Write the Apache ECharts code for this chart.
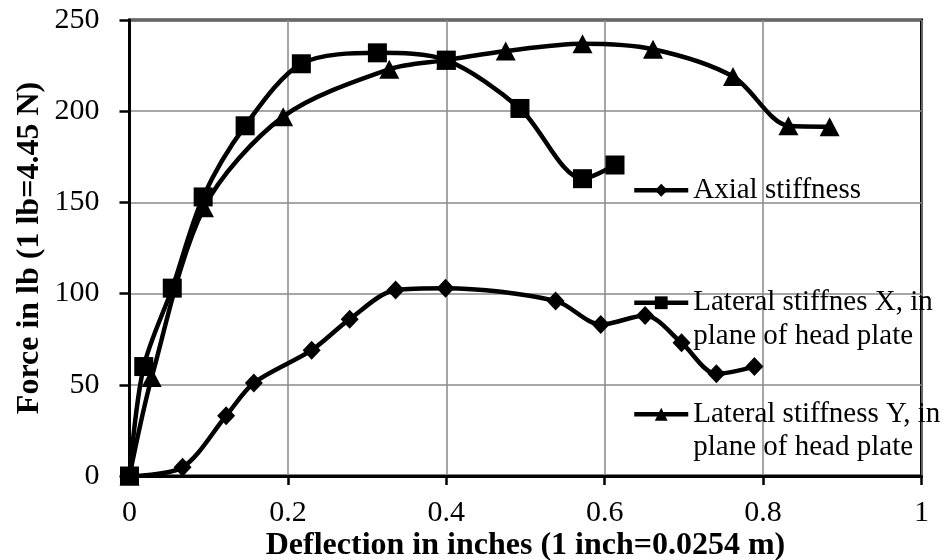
<!DOCTYPE html>
<html>
<head>
<meta charset="utf-8">
<script src="https://cdn.jsdelivr.net/npm/echarts@6/dist/echarts.min.js"></script>
<style>
  html, body { margin: 0; padding: 0; background: #fff; }
  #chart { width: 948px; height: 560px; }
</style>
</head>
<body>
<div id="chart"></div>
<script>
// Load-deflection test results for the three stiffness directions
const seriesNames = [
  'Axial stiffness',
  'Lateral stiffnes X, in\nplane of head plate',
  'Lateral stiffness Y, in\nplane of head plate'
];

const axialDeflection = [0, 0.067, 0.122, 0.157, 0.230, 0.278, 0.336, 0.399, 0.538, 0.595, 0.651, 0.697, 0.741, 0.789];
const axialForce      = [0, 4.8, 33, 51, 69, 86, 102, 103, 96, 83, 88, 73, 56, 60];

const lateralXDeflection = [0, 0.018, 0.054, 0.093, 0.146, 0.217, 0.313, 0.400, 0.493, 0.572, 0.613];
const lateralXForce      = [0, 60, 103, 153, 192, 226, 232, 228, 201.5, 163, 170.5];

const lateralYDeflection = [0, 0.028, 0.094, 0.194, 0.328, 0.400, 0.475, 0.572, 0.661, 0.762, 0.832, 0.884];
const lateralYForce      = [0, 54, 147, 197, 223, 228, 233, 237, 234, 219, 192, 191.5];

const xTitle = 'Deflection in inches (1 inch=0.0254 m)';
const yTitle = 'Force in lb (1 lb=4.45 N)';

const FONT = '"Liberation Serif", "Times New Roman", serif';
const LINE_W = 4.5;

function pairs(xs, ys) {
  return xs.map((x, i) => [x, ys[i]]);
}

function lineSeries(name, xs, ys, symbol, size) {
  return {
    name: name,
    type: 'line',
    data: pairs(xs, ys),
    smooth: 0.3,
    symbol: symbol,
    symbolSize: size,
    showAllSymbol: true,
    lineStyle: { color: '#000', width: LINE_W },
    itemStyle: { color: '#000' },
    emphasis: { disabled: true },
    z: 3
  };
}

// One legend block per series; a leading blank line keeps the first
// text line level with the legend icon for the two-line entries.
function legendFor(name, top, twoLines) {
  return {
    data: [name],
    orient: 'vertical',
    left: 632,
    top: top,
    padding: 0,
    itemWidth: 54,
    itemHeight: 16,
    selectedMode: false,
    formatter: twoLines ? (n) => ' \n' + n : undefined,
    lineStyle: { width: LINE_W, color: '#000' },
    textStyle: {
      fontFamily: FONT,
      fontSize: 29,
      color: '#000',
      lineHeight: 33.5
    }
  };
}

const chart = echarts.init(document.getElementById('chart'), null, { renderer: 'canvas' });

chart.setOption({
  animation: false,
  backgroundColor: '#fff',
  grid: {
    left: 129.5, right: 26.5, top: 20, bottom: 84,
    show: true, borderColor: '#000', borderWidth: 3,
    containLabel: false,
    outerBoundsMode: 'none'
  },
  legend: [
    legendFor(seriesNames[0], 173.5, false),
    legendFor(seriesNames[1], 252.5, true),
    legendFor(seriesNames[2], 364, true)
  ],
  xAxis: {
    type: 'value',
    min: 0, max: 1, interval: 0.2,
    name: xTitle,
    nameLocation: 'middle',
    nameGap: 54,
    nameMoveOverlap: false,
    nameTextStyle: { fontFamily: FONT, fontSize: 32, fontWeight: 'bold', color: '#000' },
    axisLine: { show: true, lineStyle: { color: '#000', width: 3 } },
    axisTick: { show: true, inside: false, length: 9, lineStyle: { color: '#000', width: 2.5 } },
    axisLabel: { fontFamily: FONT, fontSize: 30, color: '#000', margin: 22 },
    splitLine: { show: true, lineStyle: { color: '#888', width: 1.5 } }
  },
  yAxis: {
    type: 'value',
    min: 0, max: 250, interval: 50,
    name: yTitle,
    nameLocation: 'middle',
    nameGap: 84,
    nameMoveOverlap: false,
    nameRotate: 90,
    nameTextStyle: { fontFamily: FONT, fontSize: 32, fontWeight: 'bold', color: '#000' },
    axisLine: { show: true, lineStyle: { color: '#000', width: 3 } },
    axisTick: { show: true, inside: false, length: 10, lineStyle: { color: '#000', width: 2.5 } },
    axisLabel: { fontFamily: FONT, fontSize: 30, color: '#000', margin: 30 },
    splitLine: { show: true, lineStyle: { color: '#888', width: 1.5 } }
  },
  series: [
    lineSeries(seriesNames[0], axialDeflection, axialForce, 'diamond', [18, 19]),
    lineSeries(seriesNames[1], lateralXDeflection, lateralXForce, 'rect', 19),
    lineSeries(seriesNames[2], lateralYDeflection, lateralYForce, 'triangle', [20, 19])
  ]
});
</script>
</body>
</html>
